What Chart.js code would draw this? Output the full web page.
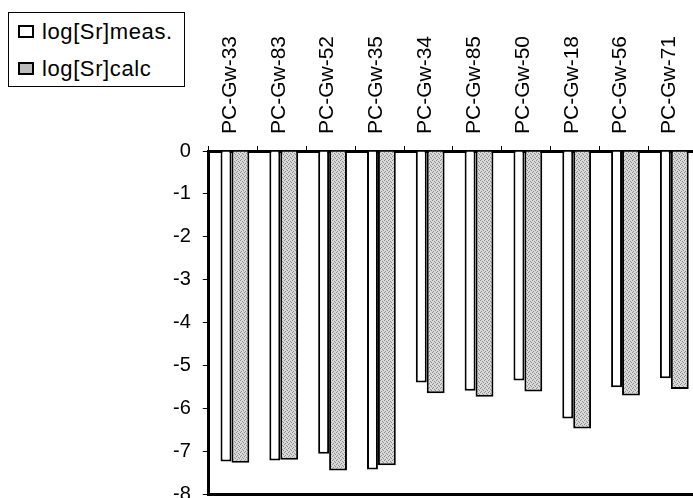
<!DOCTYPE html>
<html>
<head>
<meta charset="utf-8">
<title>log[Sr] medido vs calculado</title>
<script src="https://cdn.jsdelivr.net/npm/chart.js@4/dist/chart.umd.min.js"></script>
<style>
    html, body { margin: 0; padding: 0; background: #fff; overflow: hidden; }
    /* el lienzo es algo mayor que la ventana: el original corta el borde derecho y el -8 */
    #contenedor { position: relative; width: 700px; height: 518px; }
    #leyenda {
        position: absolute; left: 8px; top: 12px; width: 177px; height: 75px;
        border: 1px solid #000; box-sizing: border-box; background: #fff;
        font: 22px "Liberation Sans", Arial, sans-serif; letter-spacing: 0.6px; color: #000;
        padding: 0 0 0 9px;
    }
    .fila { display: flex; align-items: center; height: 37px; }
    .muestra { width: 16px; height: 13px; border: 2px solid #000; box-sizing: border-box; margin-right: 8px; }
</style>
</head>
<body>
<div id="contenedor">
    <canvas id="grafica" width="700" height="518"></canvas>
    <div id="leyenda"></div>
</div>
<script>
/* DATOS */
const muestras = ['PC-Gw-33', 'PC-Gw-83', 'PC-Gw-52', 'PC-Gw-35', 'PC-Gw-34', 'PC-Gw-85', 'PC-Gw-50', 'PC-Gw-18', 'PC-Gw-56', 'PC-Gw-71'];
const logSrMedido = [-7.24, -7.22, -7.06, -7.43, -5.40, -5.59, -5.35, -6.24, -5.51, -5.30];
const logSrCalculado = [-7.27, -7.20, -7.45, -7.33, -5.65, -5.73, -5.61, -6.47, -5.70, -5.55];
const etiquetasSerie = ['log[Sr]meas.', 'log[Sr]calc'];
const rangoY = [-8, 0];

const fuente = '"Liberation Sans", Arial, sans-serif';
Chart.defaults.font.family = fuente;
Chart.defaults.color = '#000';

// trama punteada gris para la serie calculada
function crearTrama(ctx) {
    const c = document.createElement('canvas');
    c.width = 4; c.height = 4;
    const g = c.getContext('2d');
    g.fillStyle = '#d9d9d9';
    g.fillRect(0, 0, 4, 4);
    g.fillStyle = '#8c8c8c';
    [[0, 0], [2, 1], [1, 3], [3, 2]].forEach(p => g.fillRect(p[0], p[1], 1, 1));
    return ctx.createPattern(c, 'repeat');
}

const ctx = document.getElementById('grafica').getContext('2d');
const trama = crearTrama(ctx);

new Chart(ctx, {
    type: 'bar',
    data: {
        labels: muestras,
        datasets: [{
            label: etiquetasSerie[0],
            data: logSrMedido,
            backgroundColor: '#fff',
            borderColor: '#000',
            borderWidth: 2,
            categoryPercentage: 0.59,
            barPercentage: 0.76
        }, {
            label: etiquetasSerie[1],
            data: logSrCalculado,
            backgroundColor: trama,
            borderColor: '#000',
            borderWidth: 2,
            categoryPercentage: 0.59,
            barPercentage: 1.24
        }]
    },
    options: {
        responsive: false,
        animation: false,
        layout: { padding: { left: 161, top: 24, right: 3, bottom: 0 } },
        plugins: { legend: { display: false }, tooltip: { enabled: false } },
        scales: {
            x: {
                position: 'top',
                grid: { drawOnChartArea: false, tickLength: 5, color: '#000' },
                border: { color: '#000', width: 3 },
                ticks: { font: { size: 21 }, minRotation: 90, maxRotation: 90, padding: 12, autoSkip: false, labelOffset: 22 }
            },
            // solo para la linea gruesa de abajo (-8)
            x2: {
                type: 'category',
                position: 'bottom',
                grid: { display: false, drawTicks: false },
                ticks: { display: false, padding: 0 },
                border: { color: '#000', width: 3 }
            },
            y: {
                min: rangoY[0], max: rangoY[1],
                ticks: { stepSize: 1, font: { size: 20 }, padding: 12 },
                grid: { drawOnChartArea: false, tickLength: 6, color: '#000' },
                border: { color: '#000', width: 3 }
            }
        }
    }
});

// LEYENDA
const leyenda = document.getElementById('leyenda');
etiquetasSerie.forEach((txt, i) => {
    const fila = document.createElement('div');
    fila.className = 'fila';
    const caja = document.createElement('span');
    caja.className = 'muestra';
    caja.style.background = i === 0 ? '#fff' : '#bcbcbc';
    const texto = document.createElement('span');
    texto.innerText = txt;
    fila.appendChild(caja);
    fila.appendChild(texto);
    leyenda.appendChild(fila);
});
</script>
</body>
</html>
